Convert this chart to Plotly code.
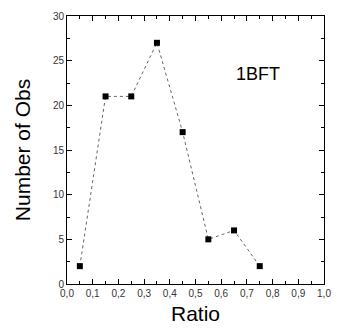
import plotly.graph_objects as go

ratio = [0.05, 0.15, 0.25, 0.35, 0.45, 0.55, 0.65, 0.75]
num_obs = [2, 21, 21, 27, 17, 5, 6, 2]

fig = go.Figure()
fig.add_trace(go.Scatter(
    x=ratio, y=num_obs, mode="lines+markers",
    line=dict(color="#666666", width=1, dash="dot"),
    marker=dict(symbol="square", size=6, color="black"),
    showlegend=False,
))

fig.add_annotation(
    x=0.742, y=23.5, text="1BFT", showarrow=False,
    font=dict(family="Liberation Sans, Arial, sans-serif", size=18, color="black"),
)

axis_common = dict(
    showline=True, linecolor="black", linewidth=1, mirror="allticks",
    ticks="inside", ticklen=5, tickcolor="black", showgrid=False, zeroline=False,
    tickfont=dict(family="Liberation Sans, Arial, sans-serif", size=10, color="#333333"),
    title_font=dict(family="Liberation Sans, Arial, sans-serif", size=21, color="black"),
)

fig.update_xaxes(
    range=[0, 1], dtick=0.1, tick0=0, tickformat=".1f",
    minor=dict(ticks="inside", ticklen=3, dtick=0.05, tickcolor="black"),
    title_text="Ratio", title_standoff=8, **axis_common,
)
fig.update_yaxes(
    range=[0, 30], dtick=5, tick0=0,
    minor=dict(ticks="inside", ticklen=3, dtick=2.5, tickcolor="black"),
    title_text="Number of Obs", title_standoff=16, **axis_common,
)

fig.update_layout(
    width=341, height=334, separators=",.",
    margin=dict(l=67, r=10, t=11, b=50),
    plot_bgcolor="white", paper_bgcolor="white",
)

fig.write_html("out.html")
